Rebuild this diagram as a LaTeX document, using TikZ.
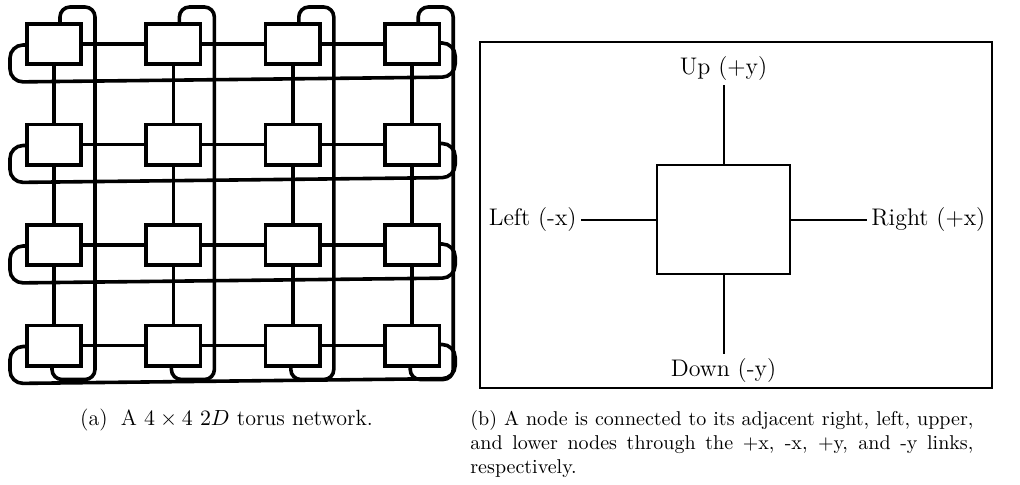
\documentclass[tikz,border=0pt]{standalone}
\usetikzlibrary{calc}
\begin{document}
\begin{tikzpicture}[x=0.5pt,y=-0.5pt,
  router/.style={draw,line width=1.8pt,fill=white,minimum width=27.2pt,minimum height=20.2pt,inner sep=0pt},
  link/.style={line width=1.8pt},
  rowwrap/.style={line width=1.8pt,rounded corners=6.5pt},
  colwrap/.style={line width=1.8pt,rounded corners=5pt},
  cell/.style={draw,line width=1pt,minimum width=66.5pt,minimum height=54.5pt,inner sep=0pt},
  dir/.style={font=\large,inner sep=2pt},
  port/.style={line width=1pt},
  caption/.style={inner sep=0pt}]
\useasboundingbox (0,0) rectangle (1020,484);

% 4x4 grid of routers
\foreach \i in {1,...,4}
  \foreach \j in {1,...,4}
    \node[router] (n-\i-\j) at ({54+119.4*(\i-1)},{44+100.5*(\j-1)}) {};

% mesh links between neighbours
\foreach \j in {1,...,4}
  \foreach \i/\k in {1/2,2/3,3/4}
    \draw[link] (n-\i-\j.east) -- (n-\k-\j.west);
\foreach \i in {1,...,4}
  \foreach \j/\k in {1/2,2/3,3/4}
    \draw[link] (n-\i-\j.south) -- (n-\i-\k.north);

% wrap-around links of each row
\foreach \j in {1,...,4}
  \draw[rowwrap] ($(n-1-\j.west)+(0,1)$) -- ($(n-1-\j.west)+(-15,1)$)
    -- ($(n-1-\j.south west)+(-15,16)$) -- ($(n-4-\j.south east)+(14,11)$)
    -- ($(n-4-\j.east)+(14,-1)$) -- ($(n-4-\j.east)+(0,-1)$);

% wrap-around links of each column
\foreach \i in {1,...,4}
  \draw[colwrap] ($(n-\i-1.north)+(6,0)$) -- ($(n-\i-1.north)+(6,-15)$)
    -- ($(n-\i-1.north east)+(12,-15)$) -- ($(n-\i-4.south east)+(12,12)$)
    -- ($(n-\i-4.south)+(-2,12)$) -- ($(n-\i-4.south)+(-2,0)$);

% single node with its four ports
\draw[line width=0.6pt] (480,42) rectangle (992,388);
\node[cell] (c) at (723.5,219.5) {};
\node[dir,anchor=south] (up) at (723.5,85) {Up (+y)};
\node[dir,anchor=north] (down) at (723.5,354) {Down (-y)};
\node[dir,anchor=east] (left) at (581,219.5) {Left (-x)};
\node[dir,anchor=west] (right) at (867,219.5) {Right (+x)};
\draw[port] (c.north) -- (up.south);
\draw[port] (c.south) -- (down.north);
\draw[port] (c.west) -- (left.east);
\draw[port] (c.east) -- (right.west);

% captions
\node[caption,anchor=base,font=\fontsize{11pt}{13pt}\selectfont] (capa) at (226.5,425)
  {(a)\hspace{0.6em}A $4 \times 4$ $2D$ torus network.};
\node[caption,anchor=base west,text width=251.5pt,align=justify] (capb) at (470,425)
  {(b) A node is connected to its adjacent right, left, upper, and lower nodes through the +x, -x, +y, and -y links, respectively.};
\end{tikzpicture}
\end{document}
